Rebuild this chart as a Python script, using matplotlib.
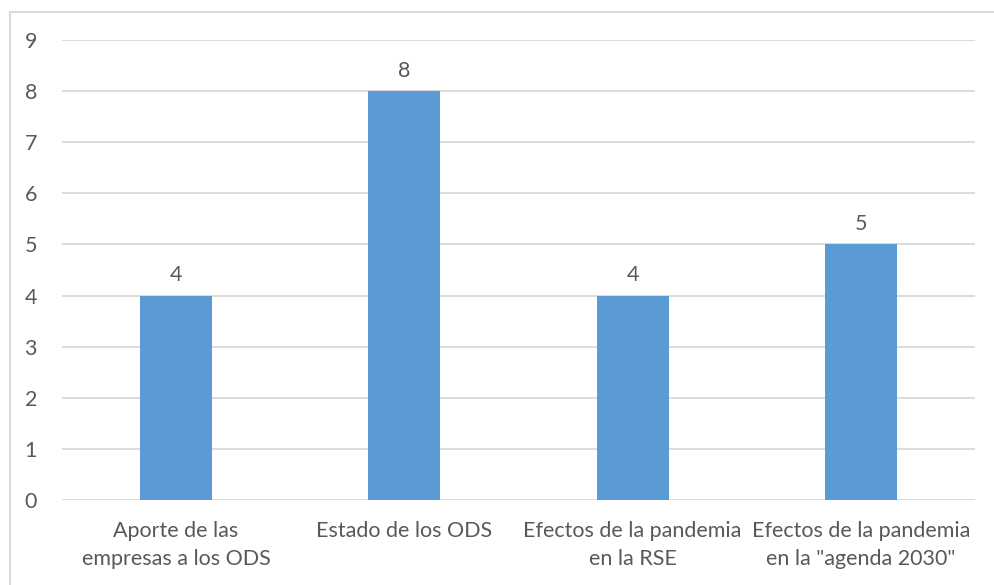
import matplotlib
matplotlib.use("Agg")
from matplotlib import pyplot as plt
from matplotlib.patches import Rectangle

categories = ["Aporte de las\nempresas a los ODS", "Estado de los ODS",
              "Efectos de la pandemia\nen la RSE", "Efectos de la pandemia\nen la \"agenda 2030\""]
values = [4, 8, 4, 5]
yticks = [0, 1, 2, 3, 4, 5, 6, 7, 8, 9]

plt.rcParams['font.family'] = ['Lato', 'DejaVu Sans']
txt = "#595959"
fs = 15.5

fig = plt.figure(figsize=(9.95, 5.85), dpi=100)
ax = fig.add_axes([62/995, 1-500/585, (975-62)/995, (500-40)/585])

x = list(range(len(values)))
bars = ax.bar(x, values, width=0.315, color="#5B9BD5", zorder=3)
for b, v in zip(bars, values):
    ax.text(b.get_x() + b.get_width()/2, v + 0.2, str(v), ha="center", va="bottom",
            fontsize=fs, color=txt)

ax.set_xlim(-0.5, len(values) - 0.5)
ax.set_ylim(0, 9)
ax.set_yticks(yticks)
ax.set_yticklabels([str(t) for t in yticks], fontsize=fs, color=txt)
ax.set_xticks(x)
ax.set_xticklabels(categories, fontsize=fs, color=txt, linespacing=1.5)
ax.tick_params(axis="both", length=0)
ax.tick_params(axis="y", pad=18)
ax.tick_params(axis="x", pad=15)
ax.grid(axis="y", color="#D9D9D9", linewidth=1.3, zorder=0)
for s in ax.spines.values():
    s.set_visible(False)

fig.patches.append(Rectangle((10/995, -0.1), 1.2, 1.1 - 12/585, transform=fig.transFigure,
                             fill=False, edgecolor="#D9D9D9", linewidth=1.5))

fig.savefig("out.png", dpi=100)
